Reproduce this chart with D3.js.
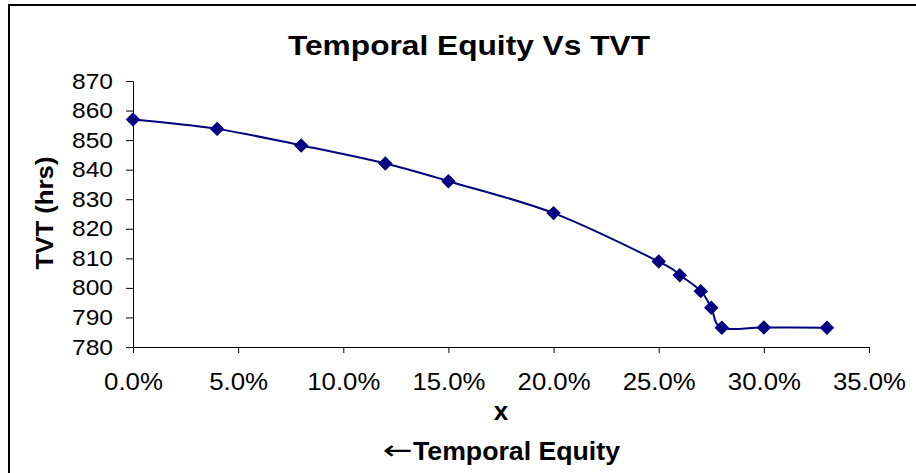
<!DOCTYPE html>
<html>
<head>
<meta charset="utf-8">
<script src="https://cdn.jsdelivr.net/npm/d3@7"></script>
<style>
  html, body { margin: 0; padding: 0; background: #fff; }
  svg { display: block; }
  text { font-family: "Liberation Sans", Arial, sans-serif; fill: #000; }
</style>
</head>
<body>
<svg id="chart" width="916" height="473"></svg>
<script>
// ---- data ----
const equity = [0.00, 0.04, 0.08, 0.12, 0.15, 0.20, 0.25, 0.26, 0.27, 0.275, 0.28, 0.30, 0.33];
const tvt    = [857.0, 853.8, 848.2, 842.1, 836.1, 825.3, 808.9, 804.3, 798.9, 793.3, 786.5, 786.6, 786.5];
const xTicks = [0, 0.05, 0.10, 0.15, 0.20, 0.25, 0.30, 0.35];
const yTicks = [780, 790, 800, 810, 820, 830, 840, 850, 860, 870];
const titleText = "Temporal Equity Vs TVT";
const yTitle = "TVT (hrs)";
const xTitle = "x";
const xSubArrow = "\u2190";
const xSubTitle = "Temporal Equity";

const svg = d3.select("#chart");

// outer chart border (extends past the right/bottom edge as in the reference)
svg.append("rect")
  .attr("x", 9).attr("y", 5).attr("width", 930).attr("height", 490)
  .attr("fill", "#fff").attr("stroke", "#000").attr("stroke-width", 2);

const x = d3.scaleLinear().domain([0, 0.35]).range([133, 869]);
const y = d3.scaleLinear().domain([780, 870]).range([347, 81]);

// title
svg.append("text")
  .attr("x", 469).attr("y", 55)
  .attr("text-anchor", "middle")
  .attr("font-size", 28).attr("font-weight", "bold")
  .attr("textLength", 362).attr("lengthAdjust", "spacingAndGlyphs")
  .text(titleText);

// y axis
const yAxis = svg.append("g")
  .attr("transform", `translate(${x(0)},0)`)
  .call(d3.axisLeft(y).tickValues(yTicks).tickSize(7).tickPadding(13).tickSizeOuter(0).tickFormat(d3.format("d")));
yAxis.selectAll("text")
  .attr("font-size", 22)
  .attr("font-family", "Liberation Sans, Arial, sans-serif")
  .attr("textLength", 41).attr("lengthAdjust", "spacingAndGlyphs");

// x axis
const xAxis = svg.append("g")
  .attr("transform", `translate(0,${y(780)})`)
  .call(d3.axisBottom(x).tickValues(xTicks).tickSize(6).tickPadding(21).tickSizeOuter(0).tickFormat(d3.format(".1%")));
xAxis.selectAll("text")
  .attr("font-size", 23)
  .attr("font-family", "Liberation Sans, Arial, sans-serif")
  .attr("textLength", d => (d >= 0.1 ? 73 : 59)).attr("lengthAdjust", "spacingAndGlyphs");

svg.selectAll(".domain, .tick line").attr("stroke", "#000").attr("stroke-width", 1);

// y title
svg.append("text")
  .attr("transform", "translate(53,213) rotate(-90)")
  .attr("text-anchor", "middle")
  .attr("font-size", 24).attr("font-weight", "bold")
  .attr("textLength", 113).attr("lengthAdjust", "spacingAndGlyphs")
  .text(yTitle);

// x titles
svg.append("text")
  .attr("x", 501).attr("y", 420)
  .attr("text-anchor", "middle")
  .attr("font-size", 26).attr("font-weight", "bold")
  .text(xTitle);

const sub = svg.append("text")
  .attr("x", 383).attr("y", 460)
  .attr("text-anchor", "start");
sub.append("tspan")
  .attr("font-family", "DejaVu Sans, sans-serif")
  .attr("font-size", 26).attr("font-weight", "normal")
  .attr("textLength", 30).attr("lengthAdjust", "spacingAndGlyphs")
  .attr("dy", -1)
  .text(xSubArrow);
sub.append("tspan")
  .attr("font-size", 25).attr("font-weight", "bold")
  .attr("x", 413).attr("dy", 1)
  .attr("textLength", 207).attr("lengthAdjust", "spacingAndGlyphs")
  .text(xSubTitle);

// line
const pts = equity.map((e, i) => [e, tvt[i]]);
const line = d3.line()
  .x(d => x(d[0])).y(d => y(d[1]))
  .curve(d3.curveCatmullRom.alpha(0));
svg.append("path")
  .datum(pts)
  .attr("d", line)
  .attr("fill", "none")
  .attr("stroke", "#000080")
  .attr("stroke-width", 2);

// markers
const diamond = d3.symbol().type(d3.symbolSquare).size(85);
svg.selectAll(".marker")
  .data(pts)
  .enter().append("path")
  .attr("class", "marker")
  .attr("d", diamond)
  .attr("transform", d => `translate(${x(d[0])},${y(d[1])}) rotate(45)`)
  .attr("fill", "#000080")
  .attr("stroke", "#000080")
  .attr("stroke-width", 1);
</script>
</body>
</html>
